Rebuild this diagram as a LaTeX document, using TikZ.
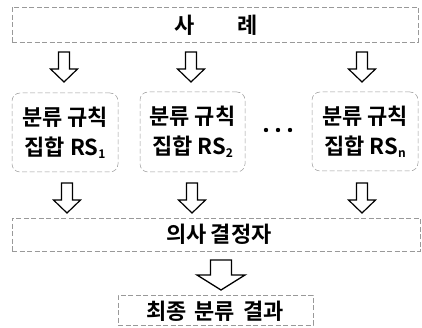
\documentclass[tikz,border=0pt]{standalone}
\usepackage{fontspec}
\newfontfamily\kr{Noto Sans CJK KR}[BoldFont={Noto Sans CJK KR Bold}]
\begin{document}
\begin{tikzpicture}[x=1pt,y=-1pt,
  every node/.style={inner sep=0pt, outer sep=0pt, font=\kr\bfseries\fontsize{22}{30}\selectfont},
  frame/.style={draw=black!40, line width=0.5pt, dash pattern=on 5pt off 2.5pt},
  rsbox/.style={frame, rounded corners=8pt, minimum width=106pt, minimum height=79pt, align=center},
  barrow/.pic={\draw[line width=1.2pt, line join=miter, fill=white]
     (-5.5,0) -- (5.5,0) -- (5.5,17) -- (13.5,17) -- (0,30) -- (-13.5,17) -- (-5.5,17) -- cycle;},
  bigarrow/.pic={\draw[line width=1.3pt, line join=miter, fill=white]
     (-10.5,0) -- (10.5,0) -- (10.5,15) -- (24,15) -- (0,30) -- (-24,15) -- (-10.5,15) -- cycle;}
]
\useasboundingbox (0,0) rectangle (422,328);
\newcommand\sub[1]{\raisebox{-3pt}{\fontsize{12}{12}\selectfont #1}}

\node[frame, minimum width=406pt, minimum height=35pt] (cases) at (215,24.5) {};
\node (casestxt) at (216,25) {사\hspace{42pt}례};

\node[rsbox] (rs1) at (65,132.5) {분류\hspace{5pt}규칙\\집합\hspace{5pt}RS\sub{1}};
\node[rsbox, minimum width=105pt, minimum height=80pt] (rs2) at (192.5,132) {분류\hspace{5pt}규칙\\집합\hspace{5pt}RS\sub{2}};
\node[rsbox] (rsn) at (365,131.5) {분류\hspace{5pt}규칙\\집합\hspace{5pt}RS\sub{n}};

\foreach \i in {0,1,2} \fill (266+\i*12,130) circle (2.2pt);
\node (dots) at (278,130) {};

\node[frame, minimum width=408pt, minimum height=33pt] (dm) at (216,234.5) {};
\node (dmtxt) at (219,234) {의사\hspace{4pt}결정자};

\node[frame, minimum width=195pt, minimum height=30pt] (final) at (215.5,310) {};
\node (finaltxt) at (215,311) {최종\hspace{8pt}분류\hspace{8pt}결과};

\coordinate (a1) at (64,52);
\coordinate (a2) at (191,52);
\coordinate (a3) at (362,52);
\coordinate (b1) at (67,183);
\coordinate (b2) at (192,183);
\coordinate (b3) at (362,183);
\coordinate (c1) at (221,260);
\foreach \p in {a1,a2,a3,b1,b2,b3} \pic at (\p) {barrow};
\pic at (c1) {bigarrow};
\end{tikzpicture}
\end{document}
